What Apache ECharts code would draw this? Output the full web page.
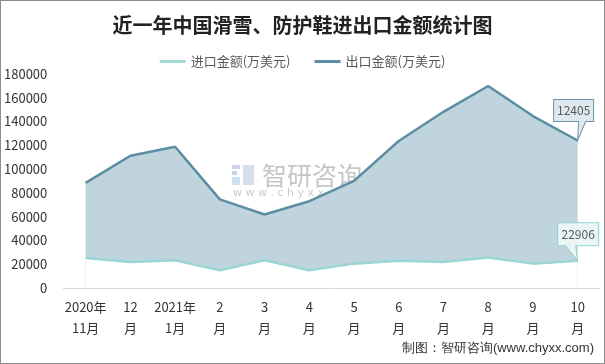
<!DOCTYPE html>
<html><head><meta charset="utf-8">
<script src="https://cdn.jsdelivr.net/npm/echarts@6/dist/echarts.min.js"></script>
<style>html,body{margin:0;padding:0;background:#fff}#c{width:605px;height:364px;box-sizing:border-box;border:1px solid #8c8c8c}</style>
</head><body><div id="c"></div>
<script>
var categories = ['2020年\n11月','12\n月','2021年\n1月','2\n月','3\n月','4\n月','5\n月','6\n月','7\n月','8\n月','9\n月','10\n月'];
var importValues = [25300, 21900, 23300, 14900, 23300, 14900, 20500, 23000, 21900, 25600, 20500, 22906];
var exportValues = [88400, 111200, 118800, 74500, 61800, 73000, 90100, 123600, 148200, 169900, 144600, 124050];
var lastImportLabel = '22906';
var lastExportLabel = '12405';
var seriesNames = ['进口金额(万美元)', '出口金额(万美元)'];

var chart = echarts.init(document.getElementById('c'), null, {renderer:'canvas'});
var font = '"Noto Sans CJK SC", sans-serif';
function callout(val, label, path, size, offset, labelOff, fill, border){
  return {
    symbol: path, symbolSize: size, symbolOffset: offset, symbolKeepAspect: false,
    silent: true,
    itemStyle: {color: fill, borderColor: border, borderWidth: 1},
    label: {show: true, formatter: label, color: '#595959', fontSize: 12, fontFamily: font, offset: labelOff},
    data: [{coord: [categories.length - 1, val]}]
  };
}
chart.setOption({
  animation: false,
  title: {text: '近一年中国滑雪、防护鞋进出口金额统计图', left: 'center', top: 9,
    textStyle: {fontSize: 20, fontWeight: 'bold', color: '#222', fontFamily: '"Noto Sans CJK SC", serif'}},
  legend: {top: 49, left: 'center', itemWidth: 26, itemHeight: 3, itemGap: 24, icon: 'rect',
    textStyle: {fontSize: 13, color: '#595959', fontFamily: font},
    data: seriesNames},
  grid: {left: 62, right: 4, top: 73, bottom: 75},
  xAxis: {type: 'category', data: categories, boundaryGap: true,
    axisLine: {lineStyle: {color: '#d9d9d9', width: 1}}, axisTick: {show: false},
    axisLabel: {color: '#333', fontSize: 13, lineHeight: 21, margin: 9, interval: 0, fontFamily: font}},
  yAxis: {type: 'value', min: 0, max: 180000, interval: 20000,
    axisLine: {show: false}, axisTick: {show: false}, splitLine: {show: false},
    axisLabel: {color: '#333', fontSize: 13, margin: 16, fontFamily: font, formatter: function(v){return String(v);}}},
  graphic: [
    {type: 'text', right: 10, bottom: 8, style: {text: '制图：智研咨询(www.chyxx.com)', fontSize: 13, fill: '#333', font: '13px ' + font}},
    {type: 'group', left: 231, top: 162, children: [
      {type: 'rect', shape: {x: 0, y: 0, width: 8, height: 4}, style: {fill: 'rgba(140,160,200,0.45)'}},
      {type: 'rect', shape: {x: 0, y: 6, width: 5, height: 4}, style: {fill: 'rgba(140,160,200,0.45)'}},
      {type: 'rect', shape: {x: 0, y: 12, width: 8, height: 8}, style: {fill: 'rgba(140,190,230,0.45)'}},
      {type: 'rect', shape: {x: 11, y: 0, width: 11, height: 20}, style: {fill: 'rgba(140,160,200,0.35)'}},
      {type: 'text', x: 30, y: -2, style: {text: '智研咨询', font: '25px "Noto Sans CJK SC"', fill: 'rgba(140,140,140,0.5)'}},
      {type: 'text', x: 1, y: 23, style: {text: 'w w w . c h y x x . c o m', font: '11px "DejaVu Sans"', fill: 'rgba(140,140,140,0.45)'}}
    ]}
  ],
  series: [
    {name: seriesNames[1], type: 'line', data: exportValues, symbol: 'none', z: 2,
      lineStyle: {color: '#5b8ea2', width: 2.5}, itemStyle: {color: '#5b8ea2'},
      areaStyle: {color: '#bfd4dd', opacity: 1, origin: 'start'},
      markPoint: callout(exportValues[11], lastExportLabel,
        'path://M-24 -41H16V-19H8L0 0L1 -19H-24Z', [40, 41], [-4, -20.5], [0, -9.5], '#dfe8ee', '#6f93a3')},
    {name: seriesNames[0], type: 'line', data: importValues, symbol: 'none', z: 3,
      lineStyle: {color: '#9bd6d4', width: 2.5}, itemStyle: {color: '#a4d9d6'},
      areaStyle: {color: '#ffffff', opacity: 1, origin: 'start'},
      markPoint: callout(importValues[11], lastImportLabel,
        'path://M-20 -38H21V-15H-2L0 0L-12 -15H-20Z', [41, 38], [0.5, -19], [0, -7.5], '#eaf6f6', '#92d4d3')}
  ]
});
</script></body></html>
